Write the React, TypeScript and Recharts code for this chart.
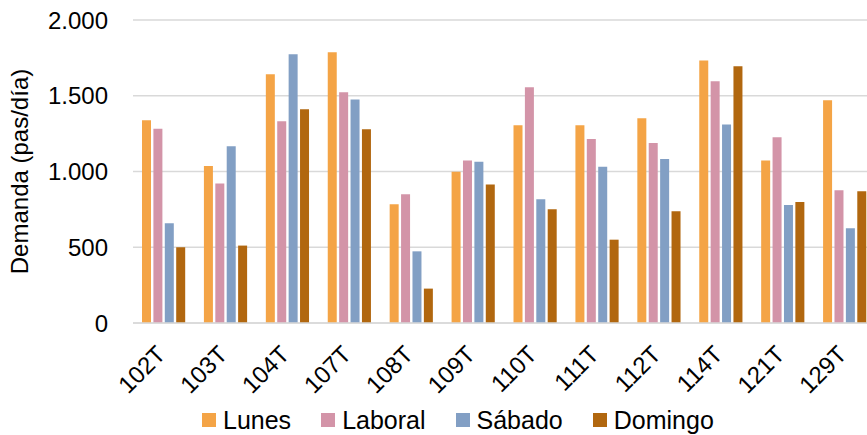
import { BarChart, Bar, XAxis, YAxis, CartesianGrid, Legend } from 'recharts'

const categories = ['102T', '103T', '104T', '107T', '108T', '109T', '110T', '111T', '112T', '114T', '121T', '129T']
const lunes = [1338, 1036, 1642, 1787, 784, 999, 1305, 1305, 1351, 1732, 1072, 1470]
const laboral = [1283, 920, 1331, 1523, 850, 1072, 1556, 1215, 1188, 1595, 1226, 876]
const sabado = [658, 1166, 1774, 1475, 473, 1065, 817, 1032, 1083, 1310, 779, 625]
const domingo = [500, 511, 1411, 1279, 227, 914, 751, 550, 737, 1694, 799, 869]
const yTicks = [0, 500, 1000, 1500, 2000]

const series = [
  { key: 'lunes', name: 'Lunes', color: '#F4A446' },
  { key: 'laboral', name: 'Laboral', color: '#D394A8' },
  { key: 'sabado', name: 'Sábado', color: '#829FC4' },
  { key: 'domingo', name: 'Domingo', color: '#B1670F' },
]

const data = categories.map((c, i) => ({
  cat: c,
  lunes: lunes[i],
  laboral: laboral[i],
  sabado: sabado[i],
  domingo: domingo[i],
}))

const FONT = '"Liberation Sans", Arial, sans-serif'

const fmt = (v: number) => String(v).replace(/\B(?=(\d{3})+(?!\d))/g, '.')

function XTick({ x, y, payload }: any) {
  return (
    <g transform={`translate(${x + 3},${y + 33})`}>
      <text
        x={0}
        y={0}
        transform="rotate(-45)"
        textAnchor="end"
        fontSize={24}
        fontFamily={FONT}
        fill="#000"
      >
        {payload.value}
      </text>
    </g>
  )
}

function LegendContent() {
  return (
    <div
      style={{
        display: 'flex',
        alignItems: 'center',
        height: 30,
        paddingLeft: 202,
        fontFamily: FONT,
        fontSize: 25,
        color: '#000',
      }}
    >
      {series.map((s) => (
        <div key={s.key} style={{ display: 'flex', alignItems: 'center', marginRight: 30 }}>
          <span style={{ width: 14, height: 14, background: s.color, marginRight: 7 }} />
          <span>{s.name}</span>
        </div>
      ))}
    </div>
  )
}

export default function App() {
  return (
    <div style={{ position: 'absolute', left: 0, top: 0, width: 867, height: 435, overflow: 'hidden', background: '#fff' }}>
      <BarChart
        width={880}
        height={435}
        data={data}
        margin={{ top: 20, right: 4, left: 0, bottom: 0 }}
        barSize={9}
        barGap={2.4}
      >
        <CartesianGrid vertical={false} stroke="#D9D9D9" strokeWidth={1.5} />
        <XAxis
          dataKey="cat"
          height={82}
          tickLine={false}
          tickSize={0}
          tickMargin={0}
          axisLine={{ stroke: '#D9D9D9', strokeWidth: 1.5 }}
          tick={<XTick />}
          interval={0}
        />
        <YAxis
          width={133}
          domain={[0, 2000]}
          ticks={yTicks}
          tickFormatter={fmt}
          axisLine={false}
          tickLine={false}
          tickSize={0}
          tickMargin={25}
          tick={{ fontSize: 24, fill: '#000', fontFamily: FONT }}
          label={({ viewBox }: any) => (
            <text
              transform={`translate(28,${viewBox.y + viewBox.height / 2}) rotate(-90)`}
              textAnchor="middle"
              fontSize={24}
              fontFamily={FONT}
              fill="#000"
            >
              Demanda (pas/día)
            </text>
          )}
        />
        <Legend
          verticalAlign="bottom"
          height={30}
          content={<LegendContent />}
          wrapperStyle={{ left: 0, width: 880, bottom: 0 }}
        />
        {series.map((s) => (
          <Bar key={s.key} dataKey={s.key} name={s.name} fill={s.color} isAnimationActive={false} />
        ))}
      </BarChart>
    </div>
  )
}
